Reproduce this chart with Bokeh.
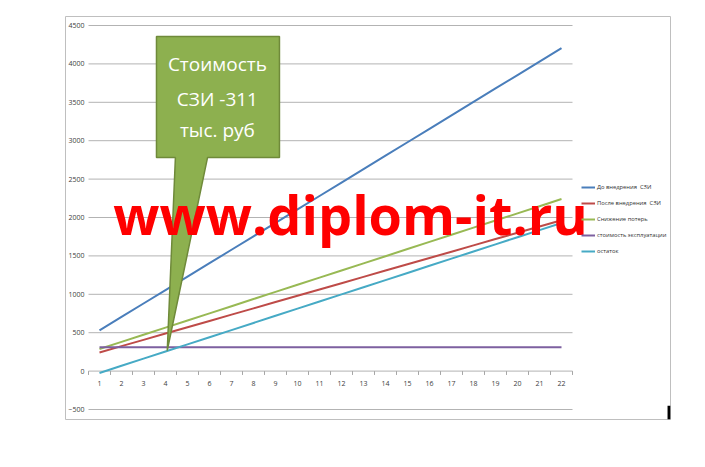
from bokeh.plotting import figure
from bokeh.models import Range1d, FixedTicker, Legend, LegendItem, Label
from bokeh.core.properties import value
from bokeh.embed import file_html
from bokeh.resources import INLINE

# ---- data ----
periods = list(range(1, 23))
before = [530, 705, 880, 1055, 1230, 1405, 1580, 1755, 1930, 2105, 2280,
          2455, 2630, 2805, 2980, 3155, 3330, 3505, 3680, 3855, 4030, 4205]
after = [243, 325, 407, 489, 571, 653, 735, 817, 899, 981, 1063,
         1145, 1227, 1309, 1391, 1473, 1555, 1637, 1719, 1801, 1883, 1965]
savings = [287, 380, 473, 566, 659, 752, 845, 938, 1031, 1124, 1217,
           1310, 1403, 1496, 1589, 1682, 1775, 1868, 1961, 2054, 2147, 2240]
opex = [311, 311, 311, 311, 311, 311, 311, 311, 311, 311, 311,
        311, 311, 311, 311, 311, 311, 311, 311, 311, 311, 311]
remainder = [-24, 69, 162, 255, 348, 441, 534, 627, 720, 813, 906,
             999, 1092, 1185, 1278, 1371, 1464, 1557, 1650, 1743, 1836, 1929]
y_ticks = [-500, 0, 500, 1000, 1500, 2000, 2500, 3000, 3500, 4000, 4500]
x_labels = [str(v) for v in periods]
series_names = ["До внедрения  СЗИ", "После внедрения  СЗИ", "Снижение потерь",
                "стоимость эксплуатации", "остаток"]
series_colors = ["#4A7EBB", "#BE4B48", "#98B954", "#7D60A0", "#46AAC5"]
callout_lines = ["Стоимость", "СЗИ -311", "тыс. руб"]
watermark = "www.diplom-it.ru"

FONT = "Open Sans"

# frame = Excel chart-area box; ranges extend past the plot area
p = figure(width=700, height=460, output_backend="svg", toolbar_location=None,
           x_range=Range1d(-0.5455, 26.9545), y_range=Range1d(-630.2, 4617.2),
           min_border_left=65, min_border_right=30, min_border_top=16,
           min_border_bottom=41)
p.outline_line_color = "#bfbfbf"
p.outline_line_width = 1
p.background_fill_color = "white"
p.border_fill_color = "white"
p.xaxis.visible = False
p.xgrid.visible = False
p.ygrid.visible = False

yax = p.yaxis[0]
yax.ticker = FixedTicker(ticks=y_ticks)
yax.axis_line_color = None
yax.major_tick_line_color = None
yax.major_tick_out = 0
yax.major_tick_in = 0
yax.minor_tick_line_color = None
yax.major_label_text_font = FONT
yax.major_label_text_font_size = "7px"
yax.major_label_text_color = "#404040"
yax.major_label_standoff = -19

first, last = periods[0] - 0.5, periods[-1] + 0.5
# horizontal gridlines of the plot area
p.segment(x0=[first] * len(y_ticks), y0=y_ticks, x1=[last] * len(y_ticks),
          y1=y_ticks, line_color="#b3b3b3", line_width=1)

# category tick marks along the zero line
bounds = [v - 0.5 for v in periods] + [last]
p.segment(x0=bounds, y0=[0] * len(bounds), x1=bounds, y1=[-50] * len(bounds),
          line_color="#a6a6a6", line_width=1)
p.text(x=periods, y=[0] * len(periods), text=x_labels, y_offset=12,
       text_align="center", text_baseline="middle",
       text_font=value(FONT), text_font_size="7px", text_color="#404040")

# series
items = []
for name, col, ys in zip(series_names, series_colors,
                         [before, after, savings, opex, remainder]):
    r = p.line(periods, ys, line_color=col, line_width=2)
    items.append(LegendItem(label=name, renderers=[r]))

legend = Legend(items=items, location=(516, 160), padding=0, margin=0,
                border_line_color=None, background_fill_alpha=0,
                glyph_width=14, glyph_height=16, label_height=16, spacing=0,
                label_standoff=2, label_text_font=FONT,
                label_text_font_size="5.8px", label_text_color="#303030")
p.add_layout(legend, "center")

# callout shape
cx = [3.59, 9.18, 9.18, 5.91, 4.08, 4.45, 3.59]
cy = [4357, 4357, 2780, 2780, 268, 2780, 2780]
p.patch(cx, cy, fill_color="#8DB04F", line_color="#6F8A3A", line_width=1.5)
for txt, yb in zip(callout_lines, [3996, 3540, 3133]):
    p.add_layout(Label(x=6.36, y=yb, text=txt, text_align="center",
                       text_baseline="alphabetic", text_font=FONT,
                       text_font_size="19px", text_color="white"))

p.add_layout(Label(x=12.41, y=2052, text=watermark, text_align="center",
                   text_baseline="alphabetic", text_font=FONT,
                   text_font_style="bold", text_font_size="54px",
                   text_color="#FF0000"))

# stray cursor mark at the lower right of the chart box
p.quad(left=[26.82], right=[26.96], bottom=[-630], top=[-450],
       fill_color="black", line_alpha=0)

open("out.html", "w").write(file_html(p, INLINE))
